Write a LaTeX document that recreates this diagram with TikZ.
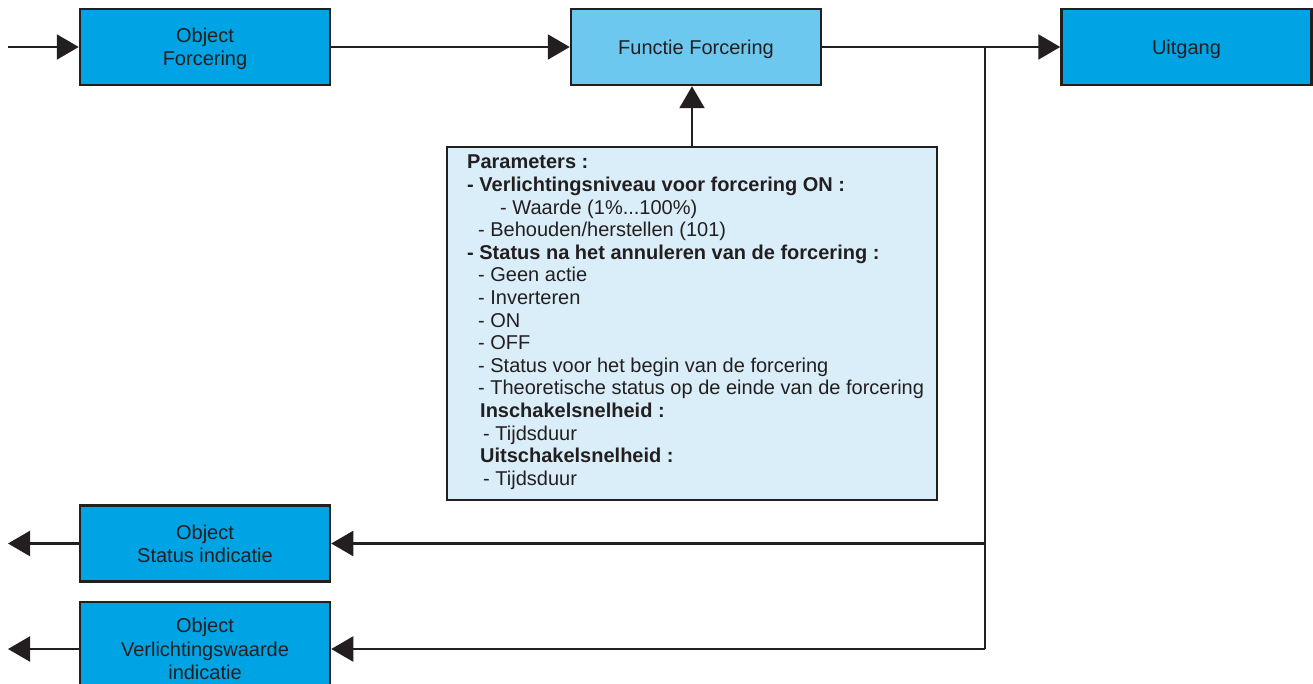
\documentclass[tikz,border=0pt]{standalone}
\usepackage{fontspec}
\setmainfont{Liberation Sans}
\usetikzlibrary{arrows.meta}
\definecolor{ln}{HTML}{231F20}
\definecolor{bluebox}{HTML}{00A3E4}
\definecolor{lightbox}{HTML}{6DC8F0}
\definecolor{parbox}{HTML}{DAEEF9}
\begin{document}
\begin{tikzpicture}[x=1pt,y=-1pt,
  blk/.style={draw=ln, line width=2.5pt, fill=bluebox, minimum width=250pt, minimum height=76pt, inner sep=0pt, align=center, text depth=0pt, font=\fontsize{20}{23.5}\selectfont, text=ln},
  conn/.style={draw=ln, line width=2.2pt},
  tip/.style={-{Triangle[length=22pt,width=25pt]}}]
\useasboundingbox (0,0) rectangle (1313,684);
\clip (0,0) rectangle (1313,684);
\node[blk] (of) at (205,47) {Object\\Forcering};
\node[blk, fill=lightbox] (ff) at (696,47) {Functie Forcering};
\node[blk] (ui) at (1186.5,47) {Uitgang};
\node[blk] (si) at (205,543.5) {Object\\Status indicatie};
\node[blk, minimum height=94pt] (vw) at (205,649) {Object\\Verlichtingswaarde\\indicatie};
\node[draw=ln, fill=parbox, line width=2.5pt, minimum width=490pt, minimum height=353pt, inner sep=0pt] (pb) at (692,323.5) {};
\node[anchor=north west, inner sep=0pt, align=left, text=ln, font=\fontsize{20}{22.6}\selectfont] (pt) at (467,155) {%
\textbf{Parameters :}\\
\textbf{- Verlichtingsniveau voor forcering ON :}\\
\hspace*{33pt}- Waarde (1\%...100\%)\\
\hspace*{11pt}- Behouden/herstellen (101)\\
\textbf{- Status na het annuleren van de forcering :}\\
\hspace*{11pt}- Geen actie\\
\hspace*{11pt}- Inverteren\\
\hspace*{11pt}- ON\\
\hspace*{11pt}- OFF\\
\hspace*{11pt}- Status voor het begin van de forcering\\
\hspace*{11pt}- Theoretische status op de einde van de forcering\\
\hspace*{13pt}\textbf{Inschakelsnelheid :}\\
\hspace*{16pt}- Tijdsduur\\
\hspace*{13pt}\textbf{Uitschakelsnelheid :}\\
\hspace*{16pt}- Tijdsduur};
\coordinate (in) at (8,47);
\coordinate (j) at (985,47);
\coordinate (js) at (985,543.5);
\coordinate (jv) at (985,649);
\coordinate (os) at (8,543.5);
\coordinate (ov) at (8,649);
\draw[conn,tip] (in) -- (of.west);
\draw[conn,tip] (of.east) -- (ff.west);
\draw[conn,tip] (ff.east) -- (ui.west);
\draw[conn] (j) -- (jv);
\draw[conn,tip] (js) -- (si.east);
\draw[conn,tip] (jv) -- (vw.east);
\draw[conn,tip] (si.west) -- (os);
\draw[conn,tip] (vw.west) -- (ov);
\draw[conn,tip] (pb.north) -- (pb.north |- ff.south);
\end{tikzpicture}
\end{document}
